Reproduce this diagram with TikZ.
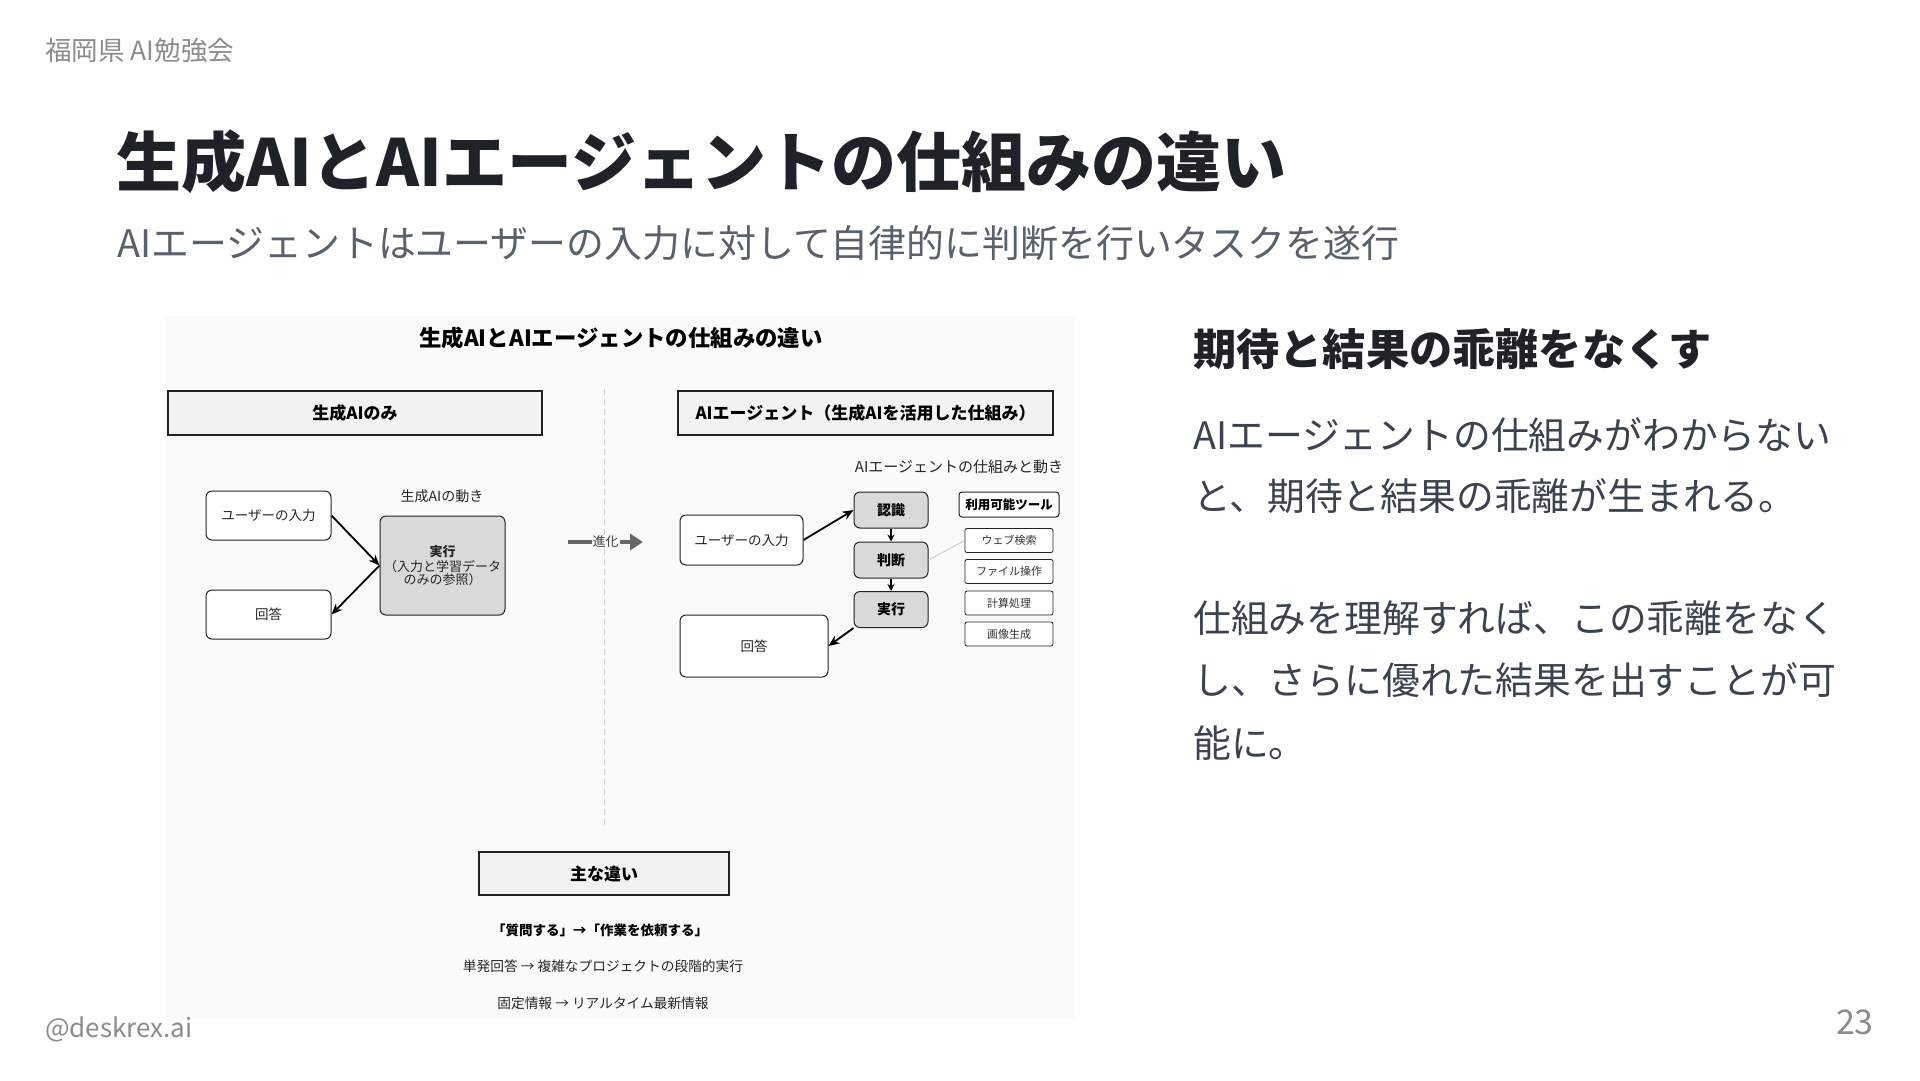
\documentclass[tikz,border=0pt]{standalone}
\usepackage{fontspec}
\setmainfont{Noto Sans CJK JP}
\usetikzlibrary{arrows.meta}
\definecolor{titlec}{HTML}{1F2329}
\definecolor{subc}{HTML}{59616D}
\definecolor{hdrc}{HTML}{8C8C8C}
\definecolor{bodyc}{HTML}{3B4250}
\definecolor{innerbg}{HTML}{FAFAFA}
\definecolor{hdrfill}{HTML}{F2F2F2}
\definecolor{procfill}{HTML}{D9D9D9}
\definecolor{linec}{HTML}{222222}
\newcommand\fsz[1]{\fontsize{#1}{#1}\selectfont}
\tikzset{
  hbox/.style={draw=linec, line width=1.3pt, fill=hdrfill, minimum width=374, minimum height=44, inner sep=0pt, font=\fsz{17}\bfseries, text=black},
  rbox/.style={draw=linec, line width=1pt, rounded corners=6, fill=white, inner sep=0pt, font=\fsz{13.5}, text=black!85},
  pbox/.style={draw=linec, line width=1pt, rounded corners=6, fill=procfill, inner sep=0pt, font=\fsz{14}\bfseries, text=black, minimum width=74, minimum height=36},
  tbox/.style={draw=linec, line width=0.8pt, rounded corners=2, fill=white, inner sep=0pt, font=\fsz{11}, text=black!80, minimum width=88, minimum height=24},
  arr/.style={line width=1.8pt, draw=black, -{Stealth[length=11pt,width=9pt]}},
  sarr/.style={line width=1.4pt, draw=black, -{Stealth[length=7pt,width=7pt]}},
  lbl/.style={inner sep=0pt, font=\fsz{14}, text=black!85},
}
\begin{document}
\begin{tikzpicture}[x=1pt,y=-1pt]
\useasboundingbox[fill=white] (0,0) rectangle (1920,1080);

% slide header, title, subtitle
\node[anchor=west, inner sep=0pt, text=hdrc, font=\fsz{26.5}] (hdr) at (45,51) {福岡県 AI勉強会};
\node[anchor=west, inner sep=0pt, text=titlec, font=\fsz{65}\bfseries] (title) at (116,162) {生成AIとAIエージェントの仕組みの違い};
\node[anchor=west, inner sep=0pt, text=subc, font=\fsz{37.9}] (sub) at (117,243) {AIエージェントはユーザーの入力に対して自律的に判断を行いタスクを遂行};

% inner diagram background
\fill[innerbg] (165,316) rectangle (1075,1019);

\node[inner sep=0pt, font=\fsz{22.4}\bfseries, text=black] (ititle) at (621,338) {生成AIとAIエージェントの仕組みの違い};

\node[hbox] (lh) at (355,413) {生成AIのみ};
\node[hbox, minimum width=375] (rh) at (865.5,413) {AIエージェント（生成AIを活用した仕組み）};

\coordinate (divT) at (604,389);
\coordinate (divB) at (604,827);
\draw[black!18, line width=1pt, dash pattern=on 6pt off 4pt] (divT) -- (divB);

% left flow
\node[lbl] (llab) at (442,496) {生成AIの動き};
\node[rbox, minimum width=125, minimum height=49] (uin1) at (268.5,515.5) {ユーザーの入力};
\node[rbox, minimum width=125, minimum height=49] (ans1) at (268.5,614.5) {回答};
\node[pbox, minimum width=125, minimum height=99, align=center, font=\fsz{13}, text=black!85] (exec1) at (442.5,565.5)
  {{\bfseries 実行}\\[2pt]（入力と学習データ\\のみの参照）};
\draw[arr] (uin1.east) -- (exec1.west);
\draw[arr] (exec1.west) -- (ans1.east);

% evolution arrow
\coordinate (evoA) at (568,542);
\coordinate (evoB) at (643,542);
\draw[line width=3.5pt, draw=black!60, -{Triangle[length=13pt,width=16pt]}] (evoA) -- (evoB)
  node[midway, fill=innerbg, inner sep=1pt, font=\fsz{13}, text=black!75] (evo) {進化};

% right flow
\node[lbl, font=\fsz{15}] (rlab) at (959,467) {AIエージェントの仕組みと動き};
\node[rbox, minimum width=123, minimum height=50] (uin2) at (741.5,540) {ユーザーの入力};
\node[rbox, minimum width=148, minimum height=62] (ans2) at (754,646) {回答};
\node[pbox] (rec) at (891,510) {認識};
\node[pbox] (jud) at (891,560) {判断};
\node[pbox] (exe2) at (891,609.5) {実行};
\node[draw=linec, line width=1pt, rounded corners=3, fill=white, minimum width=100, minimum height=25, inner sep=0pt, font=\fsz{12.5}\bfseries] (tools) at (1009,504.5) {利用可能ツール};
\node[tbox] (t1) at (1009,540.5) {ウェブ検索};
\node[tbox] (t2) at (1009,571.5) {ファイル操作};
\node[tbox] (t3) at (1009,603) {計算処理};
\node[tbox] (t4) at (1009,634) {画像生成};
\draw[black!20, line width=1pt] (jud.east) -- (t1.west);
\draw[arr] (uin2.east) -- (rec.west);
\draw[sarr] (rec.south) -- (jud.north);
\draw[sarr] (jud.south) -- (exe2.north);
\draw[arr] (exe2.south west) -- (ans2.east);

% main differences
\node[hbox, minimum width=250, minimum height=43, line width=1.6pt] (diff) at (604,873.5) {主な違い};
\node[inner sep=0pt, font=\fsz{13.5}\bfseries, text=black] (d1) at (600,930) {「質問する」→「作業を依頼する」};
\node[inner sep=0pt, font=\fsz{13.7}, text=black!85] (d2) at (603,966) {単発回答 → 複雑なプロジェクトの段階的実行};
\node[inner sep=0pt, font=\fsz{13.7}, text=black!85] (d3) at (603,1003) {固定情報 → リアルタイム最新情報};

% right column
\node[anchor=west, inner sep=0pt, text=titlec, font=\fsz{43.2}\bfseries] (rhead) at (1193,349) {期待と結果の乖離をなくす};
\node[anchor=west, inner sep=0pt, text=bodyc, font=\fsz{37.8}] (b1) at (1193,435) {AIエージェントの仕組みがわからない};
\node[anchor=west, inner sep=0pt, text=bodyc, font=\fsz{37.8}] (b2) at (1193,496) {と、期待と結果の乖離が生まれる。};
\node[anchor=west, inner sep=0pt, text=bodyc, font=\fsz{37.8}] (b3) at (1193,618) {仕組みを理解すれば、この乖離をなく};
\node[anchor=west, inner sep=0pt, text=bodyc, font=\fsz{37.8}] (b4) at (1193,680) {し、さらに優れた結果を出すことが可};
\node[anchor=west, inner sep=0pt, text=bodyc, font=\fsz{37.8}] (b5) at (1193,743) {能に。};

% footer
\node[anchor=west, inner sep=0pt, text=hdrc, font=\fsz{26}] (foot) at (45,1029) {@deskrex.ai};
\node[anchor=east, inner sep=0pt, text=hdrc, font=\fsz{34}] (page) at (1874,1022) {23};
\end{tikzpicture}
\end{document}
